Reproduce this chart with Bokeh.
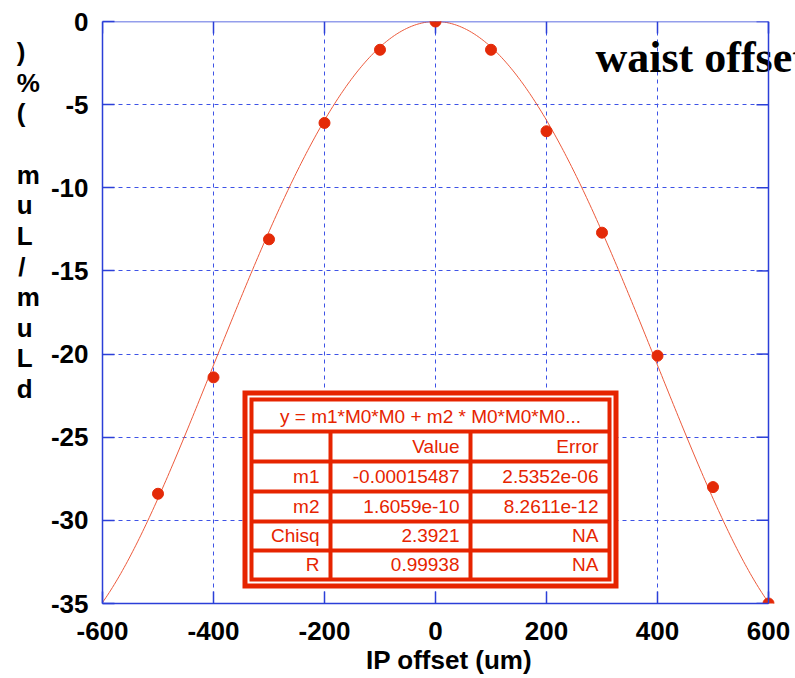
from bokeh.plotting import figure
from bokeh.models import Range1d, FixedTicker, ColumnDataSource
from bokeh.embed import file_html
from bokeh.resources import INLINE
from bokeh.core.properties import value
import numpy as np

# ---- data ----
ip_offset = [-500, -400, -300, -200, -100, 0, 100, 200, 300, 400, 500, 600]
lum_change = [-28.4, -21.4, -13.1, -6.1, -1.7, 0.0, -1.7, -6.6, -12.7, -20.1, -28.0, -35.0]
m1 = -0.00015487
m2 = 1.6059e-10
x_ticks = [-600, -400, -200, 0, 200, 400, 600]
x_tick_labels = ["-600", "-400", "-200", "0", "200", "400", "600"]
y_ticks = [0, -5, -10, -15, -20, -25, -30, -35]
y_tick_labels = ["0", "-5", "-10", "-15", "-20", "-25", "-30", "-35"]
title_text = "waist offset"
x_label = "IP offset (um)"
y_label = "dLum/Lum (%)"
fit_title = "y = m1*M0*M0 + m2 * M0*M0*M0..."
table_header = ["", "Value", "Error"]
table_rows = [
    ["m1", "-0.00015487", "2.5352e-06"],
    ["m2", "1.6059e-10", "8.2611e-12"],
    ["Chisq", "2.3921", "NA"],
    ["R", "0.99938", "NA"],
]

# ---- layout ----
W, H = 795, 678
FL, FR, FT, FB = 102, 768, 21, 603          # plotted data box in pixels
X0, X1, Y0, Y1 = -600, 600, -35, 0
BLUE = "#2b3fd8"
GRID = "#3d52e6"
RED = "#e42a08"
TRED = "#e62400"
FONT = "Liberation Sans"

DX = (X1 - X0) / (FR - FL)   # data units per pixel
DY = (Y1 - Y0) / (FB - FT)
X1_VIEW = X1 + (W - FR) * DX  # frame extends to the right edge of the canvas


def px_x(px):
    return X0 + (px - FL) * DX


def px_y(py):
    return Y1 - (py - FT) * DY


p = figure(width=W, height=H, output_backend="svg", toolbar_location=None,
           x_range=Range1d(X0, X1_VIEW), y_range=Range1d(Y0, Y1),
           min_border_left=FL, min_border_right=0,
           min_border_top=FT, min_border_bottom=H - FB)
p.background_fill_color = "white"
p.border_fill_color = "white"
p.outline_line_color = None

for ax, ticks, labels in ((p.xaxis[0], x_ticks, x_tick_labels), (p.yaxis[0], y_ticks, y_tick_labels)):
    ax.ticker = FixedTicker(ticks=ticks)
    ax.major_label_overrides = {t: l for t, l in zip(ticks, labels)}
    ax.major_label_text_font = FONT
    ax.major_label_text_font_style = "bold"
    ax.major_label_text_font_size = "26px"
    ax.major_label_text_color = "black"
    ax.axis_line_color = BLUE
    ax.axis_line_width = 1.5
    ax.major_tick_line_color = BLUE
    ax.major_tick_line_width = 1.5
    ax.major_tick_in = 12
    ax.major_tick_out = 0
    ax.minor_tick_line_color = None

p.xaxis.bounds = (X0, X1)
p.xaxis.major_label_standoff = 18
p.yaxis.major_label_standoff = 14

p.xaxis.axis_label = x_label
p.xaxis.axis_label_text_font = FONT
p.xaxis.axis_label_text_font_style = "bold"
p.xaxis.axis_label_text_font_size = "26px"
p.xaxis.axis_label_text_color = "black"
p.xaxis.axis_label_standoff = 2

# y label: characters stacked top to bottom (as in the original);
# trailing no-break spaces keep narrow characters flush left
nb = "\u00a0"
pad = {")": 2, "(": 2, "/": 2, "u": 1, "L": 1, "d": 1}
stack = [(c + nb * pad.get(c, 0)) if c.strip() else nb for c in y_label[::-1]] + [nb] * 6
p.yaxis.axis_label = "\n".join(stack)
p.yaxis.axis_label_orientation = "horizontal"
p.yaxis.axis_label_text_font = FONT
p.yaxis.axis_label_text_font_style = "bold"
p.yaxis.axis_label_text_font_size = "26px"
p.yaxis.axis_label_text_color = "black"
p.yaxis.axis_label_text_line_height = 1.021
p.yaxis.axis_label_standoff = 8

p.xgrid.ticker = FixedTicker(ticks=x_ticks)
p.ygrid.ticker = FixedTicker(ticks=y_ticks)
for g in (p.xgrid[0], p.ygrid[0]):
    g.grid_line_color = GRID
    g.grid_line_dash = "4 4"
    g.grid_line_width = 1

# white area to the right of the data box (room for the title)
p.quad(left=[X1], right=[X1_VIEW], top=[Y1], bottom=[Y0], fill_color="white", line_color=None)

# ---- title ----
p.text(x=[px_x(595)], y=[px_y(70 - 0.3 * 44)], text=[title_text],
       text_font=value("Liberation Serif"), text_font_style="bold",
       text_font_size="44px", text_color="black",
       text_align="left", text_baseline="alphabetic")

# fit curve from the fitted parameters
xf = np.linspace(X0, X1, 400)
yf = m1 * xf ** 2 + m2 * xf ** 4
p.line(xf, yf, line_color="#ec5a3c", line_width=1)

# top and right edges with inward ticks
p.segment(x0=[X0, X1], y0=[Y1, Y1], x1=[X1, X1], y1=[Y1, Y0], line_color=BLUE, line_width=1.5)
p.segment(x0=x_ticks, y0=[Y1] * len(x_ticks), x1=x_ticks, y1=[Y1 - 12 * DY] * len(x_ticks),
          line_color=BLUE, line_width=1.5)
p.segment(x0=[X1] * len(y_ticks), y0=y_ticks, x1=[X1 - 12 * DX] * len(y_ticks), y1=y_ticks,
          line_color=BLUE, line_width=1.5)

p.scatter(ip_offset, lum_change, size=11, fill_color=RED, line_color=RED)

# ---- fit table ----
p.quad(left=[px_x(242)], right=[px_x(618)], top=[px_y(390)], bottom=[px_y(588)],
       fill_color=TRED, line_color=None)
p.quad(left=[px_x(247)], right=[px_x(613)], top=[px_y(395)], bottom=[px_y(583)],
       fill_color="white", line_color=None)
p.quad(left=[px_x(249)], right=[px_x(611)], top=[px_y(397)], bottom=[px_y(581)],
       fill_color=TRED, line_color=None)

cols = [(253, 328), (332, 468), (472, 607)]
rows = [(433, 459), (463, 489), (493, 519), (523, 548), (552, 577)]
cl, cr, ct, cb = [px_x(253)], [px_x(607)], [px_y(401)], [px_y(429)]
for (r0, r1) in rows:
    for (c0, c1) in cols:
        cl.append(px_x(c0)); cr.append(px_x(c1)); ct.append(px_y(r0)); cb.append(px_y(r1))
p.quad(left=cl, right=cr, top=ct, bottom=cb, fill_color="white", line_color=None)

SH = 0.3 * 19  # baseline correction
tx, ty, tt, ta = [px_x(430)], [px_y(422 - SH)], [fit_title], ["center"]
all_rows = [table_header] + table_rows
for (r0, r1), cells in zip(rows, all_rows):
    for (c0, c1), s in zip(cols, cells):
        if s:
            tx.append(px_x(c1 - 9)); ty.append(px_y(r1 - 7 - SH)); tt.append(s); ta.append("right")
src = ColumnDataSource(dict(x=tx, y=ty, text=tt, align=ta))
p.text(x="x", y="y", text="text", text_align="align", source=src,
       text_font=value(FONT), text_font_size="19px", text_color=TRED,
       text_baseline="alphabetic")

open("out.html", "w").write(file_html(p, INLINE))
